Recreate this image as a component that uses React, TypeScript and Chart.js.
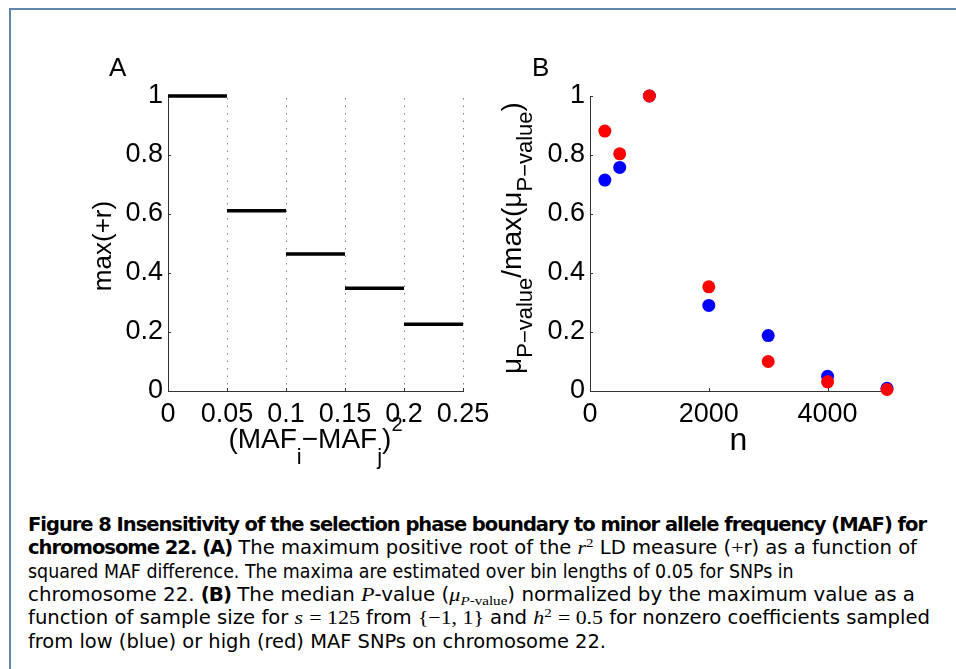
import React, { useEffect, useRef } from "react";
import { Chart, registerables } from "chart.js";
Chart.register(...registerables);

// ---------- Data ----------
// Panel A: max(+r) per squared-MAF-difference bin
const binEdges = [0, 0.05, 0.1, 0.15, 0.2, 0.25];
const maxR = [1.0, 0.611, 0.464, 0.348, 0.226];
const xTicksA = [0, 0.05, 0.1, 0.15, 0.2, 0.25];
const xTickLabelsA = ["0", "0.05", "0.1", "0.15", "0.2", "0.25"];
const yTicks = [0, 0.2, 0.4, 0.6, 0.8, 1];
const yTickLabels = ["0", "0.2", "0.4", "0.6", "0.8", "1"];

// Panel B: normalized median P-value vs sample size
const sampleSizes = [250, 500, 1000, 2000, 3000, 4000, 5000];
const lowMafBlue = [0.715, 0.758, 1.0, 0.29, 0.188, 0.05, 0.009];
const highMafRed = [0.881, 0.804, 1.0, 0.353, 0.1, 0.031, 0.005];
const xTicksB = [0, 2000, 4000];
const xTickLabelsB = ["0", "2000", "4000"];

const captionWidths = [898, 889, 735, 887, 902, 578];

const AXIS_COLOR = "#333333";
const TICK_FONT = { family: "'Liberation Sans', Arial, sans-serif", size: 27, lineHeight: 1.2 };

function matlabAxes(dottedX: number[]) {
  return {
    id: "matlabAxes",
    beforeDatasetsDraw(chart: any) {
      const { ctx, chartArea, scales } = chart;
      const xs = scales.x;
      const ys = scales.y;
      ctx.save();
      if (dottedX.length) {
        ctx.strokeStyle = "#808080";
        ctx.lineWidth = 1;
        ctx.setLineDash([1.5, 6]);
        for (const v of dottedX) {
          const px = Math.round(xs.getPixelForValue(v)) + 0.5;
          ctx.beginPath();
          ctx.moveTo(px, chartArea.top + 2);
          ctx.lineTo(px, chartArea.bottom);
          ctx.stroke();
        }
      }
      ctx.setLineDash([]);
      ctx.strokeStyle = AXIS_COLOR;
      ctx.lineWidth = 1;
      for (const t of ys.ticks) {
        const py = Math.round(ys.getPixelForValue(t.value)) + 0.5;
        ctx.beginPath();
        ctx.moveTo(chartArea.left, py);
        ctx.lineTo(chartArea.left + 3, py);
        ctx.stroke();
      }
      for (const t of xs.ticks) {
        const px = Math.round(xs.getPixelForValue(t.value)) + 0.5;
        ctx.beginPath();
        ctx.moveTo(px, chartArea.bottom);
        ctx.lineTo(px, chartArea.bottom - 3);
        ctx.stroke();
      }
      ctx.restore();
    },
  };
}

function axisOpts(
  min: number,
  max: number,
  ticks: number[],
  labels: string[],
  fit: (s: any) => void,
  pad: number
) {
  return {
    type: "linear",
    min,
    max,
    grid: { display: false, drawTicks: false, tickLength: 0 },
    border: { display: true, color: AXIS_COLOR, width: 1 },
    afterBuildTicks: (s: any) => {
      s.ticks = ticks.map((v) => ({ value: v }));
    },
    afterFit: fit,
    ticks: {
      font: TICK_FONT,
      color: "#000",
      padding: pad,
      autoSkip: false,
      maxRotation: 0,
      minRotation: 0,
      callback: (_v: any, i: number) => labels[i],
    },
  };
}

const SUB = (t: React.ReactNode, size: number, dy: number) => (
  <span style={{ fontSize: size, position: "relative", top: dy }}>{t}</span>
);

export default function App() {
  const refA = useRef<HTMLCanvasElement>(null);
  const refB = useRef<HTMLCanvasElement>(null);
  const capRefs = useRef<(HTMLDivElement | null)[]>([]);

  useEffect(() => {
    const segPoints: { x: number; y: number | null }[] = [];
    for (let i = 0; i < maxR.length; i++) {
      if (i > 0) segPoints.push({ x: binEdges[i], y: null });
      segPoints.push({ x: binEdges[i], y: maxR[i] }, { x: binEdges[i + 1], y: maxR[i] });
    }
    const chartA = new Chart(refA.current as HTMLCanvasElement, {
      type: "scatter",
      data: {
        datasets: [
          {
            data: segPoints as any,
            showLine: true,
            borderColor: "#000",
            borderWidth: 3.5,
            borderCapStyle: "butt",
            pointRadius: 0,
            spanGaps: false,
            clip: false,
          } as any,
        ],
      },
      options: {
        responsive: false,
        animation: false,
        devicePixelRatio: 1,
        layout: { padding: { top: 26, right: 40, left: 0, bottom: 0 } },
        plugins: { legend: { display: false }, tooltip: { enabled: false } },
        scales: {
          x: axisOpts(0, 0.25, xTicksA, xTickLabelsA, (s) => { s.height = 59; }, 7) as any,
          y: axisOpts(0, 1, yTicks, yTickLabels, (s) => { s.width = 78; }, 5) as any,
        },
      },
      plugins: [matlabAxes(binEdges.slice(1))],
    });

    const chartB = new Chart(refB.current as HTMLCanvasElement, {
      type: "scatter",
      data: {
        datasets: [
          {
            data: sampleSizes.map((n, i) => ({ x: n, y: highMafRed[i] })),
            pointRadius: 6.5,
            pointBackgroundColor: "#ff0000",
            pointBorderWidth: 0,
            clip: false,
            order: 0,
          } as any,
          {
            data: sampleSizes.map((n, i) => ({ x: n, y: lowMafBlue[i] })),
            pointRadius: 6.5,
            pointBackgroundColor: "#0000ff",
            pointBorderWidth: 0,
            clip: false,
            order: 1,
          } as any,
        ],
      },
      options: {
        responsive: false,
        animation: false,
        devicePixelRatio: 1,
        layout: { padding: { top: 26, right: 43, left: 0, bottom: 0 } },
        plugins: { legend: { display: false }, tooltip: { enabled: false } },
        scales: {
          x: axisOpts(0, 5000, xTicksB, xTickLabelsB, (s) => { s.height = 59; }, 7) as any,
          y: axisOpts(0, 1, yTicks, yTickLabels, (s) => { s.width = 90; }, 5) as any,
        },
      },
      plugins: [matlabAxes([])],
    });

    // Caption: near-uniform horizontal scaling so glyphs look consistent
    const els = capRefs.current.filter(Boolean) as HTMLDivElement[];
    els.forEach((el) => (el.style.transform = "none"));
    const widths = els.map((el) => el.getBoundingClientRect().width);
    const ratios = widths.map((w, i) => captionWidths[i] / w);
    const sorted = [...ratios].sort((a, b) => a - b);
    const med = sorted[Math.floor(sorted.length / 2)];
    els.forEach((el, i) => {
      const r = Math.min(med * 1.08, Math.max(med * 0.89, ratios[i]));
      el.style.transform = `scaleX(${r})`;
    });

    return () => {
      chartA.destroy();
      chartB.destroy();
    };
  }, []);

  const sans = "'Liberation Sans', Arial, sans-serif";
  const capFont = "'DejaVu Sans Condensed', 'DejaVu Sans', sans-serif";
  const serif = "'Liberation Serif', 'DejaVu Serif', serif";
  const M = (t: React.ReactNode) => <span style={{ fontFamily: serif }}>{t}</span>;
  const MI = (t: React.ReactNode) => <i style={{ fontFamily: serif }}>{t}</i>;
  const B = (t: React.ReactNode) => <b style={{ letterSpacing: "-0.9px" }}>{t}</b>;

  const capLines: React.ReactNode[] = [
    B("Figure 8 Insensitivity of the selection phase boundary to minor allele frequency (MAF) for"),
    <>
      {B("chromosome 22. (A)")} The maximum positive root of the {MI("r")}
      <span style={{ fontSize: 13, position: "relative", top: -7, fontFamily: serif }}>2</span> LD measure ({M("+")}r)
      as a function of
    </>,
    <>squared MAF difference. The maxima are estimated over bin lengths of 0.05 for SNPs in</>,
    <>
      chromosome 22. {B("(B)")} The median {MI("P")}-value ({MI("μ")}
      <span style={{ fontSize: 13, position: "relative", top: 4, fontFamily: serif }}>
        <i>P</i>-value
      </span>
      ) normalized by the maximum value as a
    </>,
    <>
      function of sample size for {MI("s")} {M("= 125")} from {M("{−1, 1}")} and {MI("h")}
      <span style={{ fontSize: 13, position: "relative", top: -7, fontFamily: serif }}>2</span> {M("= 0.5")} for
      nonzero coefficients sampled
    </>,
    <>from low (blue) or high (red) MAF SNPs on chromosome 22.</>,
  ];
  const capTops = [513, 536.3, 559.6, 583, 606.3, 629.6];

  return (
    <div
      style={{
        position: "absolute",
        left: 0,
        top: 0,
        width: 956,
        height: 669,
        background: "#fff",
        overflow: "hidden",
        fontFamily: sans,
        color: "#000",
      }}
    >
      <div
        style={{
          position: "absolute",
          left: 9,
          top: 8,
          width: 1000,
          height: 700,
          borderTop: "2px solid #6384ad",
          borderLeft: "2px solid #6384ad",
        }}
      />
      <canvas
        ref={refA}
        width={413}
        height={380}
        style={{ position: "absolute", left: 90, top: 70, width: 413, height: 380 }}
      />
      <canvas
        ref={refB}
        width={430}
        height={380}
        style={{ position: "absolute", left: 500, top: 70, width: 430, height: 380 }}
      />

      {/* Panel letters */}
      <div style={{ position: "absolute", left: 109, top: 54, fontSize: 26, lineHeight: "26px" }}>A</div>
      <div style={{ position: "absolute", left: 532, top: 54, fontSize: 26, lineHeight: "26px" }}>B</div>

      {/* Panel A axis titles */}
      <div
        style={{
          position: "absolute",
          left: 102,
          top: 246,
          fontSize: 26,
          lineHeight: "26px",
          whiteSpace: "nowrap",
          transform: "translate(-50%, -50%) rotate(-90deg)",
        }}
      >
        max(+r)
      </div>
      <div
        style={{
          position: "absolute",
          left: 315.5,
          top: 425,
          fontSize: 28,
          lineHeight: "28px",
          whiteSpace: "nowrap",
          transform: "translateX(-50%)",
        }}
      >
        (MAF{SUB("i", 22, 16)}−MAF{SUB("j", 22, 16)}){SUB("2", 20, -17)}
      </div>

      {/* Panel B axis titles */}
      <div
        style={{
          position: "absolute",
          left: 513,
          top: 238,
          fontSize: 28,
          lineHeight: "28px",
          whiteSpace: "nowrap",
          transform: "translate(-50%, -50%) rotate(-90deg)",
        }}
      >
        μ{SUB("P−value", 22, 11)}/max(μ{SUB("P−value", 22, 11)})
      </div>
      <div
        style={{
          position: "absolute",
          left: 738.5,
          top: 423,
          fontSize: 32,
          lineHeight: "32px",
          whiteSpace: "nowrap",
          transform: "translateX(-50%)",
        }}
      >
        n
      </div>

      {/* Caption */}
      {capLines.map((ln, i) => (
        <div
          key={i}
          ref={(el) => {
            capRefs.current[i] = el;
          }}
          style={{
            position: "absolute",
            left: 28,
            top: capTops[i],
            fontFamily: capFont,
            fontSize: 19,
            lineHeight: "23px",
            whiteSpace: "nowrap",
            transformOrigin: "left center",
          }}
        >
          {ln}
        </div>
      ))}
    </div>
  );
}
